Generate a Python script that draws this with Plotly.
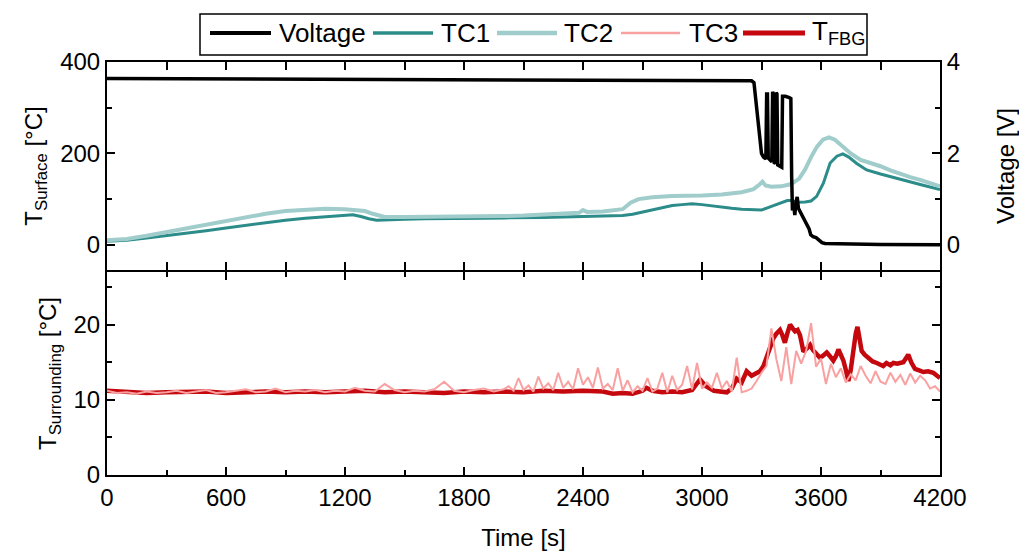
import plotly.graph_objects as go

# ---------------- data ----------------
volt_t = [0, 1000, 2000, 3000, 3200, 3250, 3262, 3275, 3290, 3300, 3310, 3322, 3326, 3330, 3334, 3345,
          3352, 3356, 3360, 3364, 3370, 3374, 3378, 3382, 3395, 3402, 3406, 3420, 3440, 3448, 3452,
          3456, 3462, 3468, 3474, 3480, 3486, 3492, 3500, 3510, 3520, 3530, 3540, 3548, 3560, 3575,
          3590, 3605, 3620, 3700, 3900, 4200]
volt_v = [3.64, 3.63, 3.62, 3.61, 3.60, 3.59, 3.55, 3.00, 2.40, 2.00, 1.92, 1.88, 3.30, 3.30, 1.90, 1.85,
          1.82, 3.35, 3.30, 1.80, 1.78, 3.33, 3.30, 1.75, 1.72, 1.70, 3.25, 3.25, 3.22, 3.20, 1.50,
          0.75, 0.90, 0.65, 0.95, 1.05, 0.80, 0.75, 0.68, 0.60, 0.50, 0.45, 0.35, 0.22, 0.18, 0.16,
          0.10, 0.05, 0.03, 0.02, 0.01, 0.00]

tc1_t = [0, 100, 200, 300, 400, 500, 600, 700, 800, 900, 1000, 1100, 1200, 1240, 1280, 1320, 1360, 1400,
         1500, 1600, 1700, 1800, 1900, 2000, 2100, 2200, 2300, 2400, 2500, 2600, 2650, 2700, 2750, 2800,
         2850, 2900, 2950, 3000, 3050, 3100, 3150, 3200, 3250, 3300, 3350, 3400, 3430, 3450, 3480, 3520,
         3550, 3578, 3612, 3646, 3680, 3710, 3740, 3780, 3830, 3900, 4000, 4100, 4200]
tc1_v = [8, 10, 15, 20, 25, 31, 37, 43, 49, 54, 58, 62, 65, 66, 62, 57, 54, 55,
         56, 57, 57, 58, 58, 59, 59, 60, 61, 62, 63, 64, 67, 72, 77, 82,
         86, 88, 90, 88, 85, 82, 80, 78, 77, 76, 84, 92, 97, 97, 93, 94,
         96, 106, 135, 179, 194, 199, 192, 178, 164, 155, 143, 132, 121]

tc2_t = [0, 100, 200, 300, 400, 500, 600, 700, 800, 900, 1000, 1100, 1200, 1250, 1300, 1340, 1380, 1400,
         1500, 1600, 1700, 1800, 1900, 2000, 2100, 2200, 2300, 2380, 2400, 2420, 2500, 2600, 2640, 2680,
         2750, 2850, 3000, 3100, 3200, 3260, 3290, 3305, 3320, 3350, 3400, 3450, 3490, 3520, 3550, 3580,
         3610, 3640, 3670, 3700, 3750, 3800, 3850, 3900, 3950, 4000, 4050, 4100, 4150, 4200]
tc2_v = [10, 13, 20, 28, 36, 45, 54, 62, 68, 74, 77, 79, 78, 77, 74, 68, 62, 61,
         61, 61, 61, 61, 62, 63, 64, 66, 68, 70, 76, 72, 73, 78, 92, 100,
         104, 107, 108, 110, 115, 122, 132, 138, 130, 127, 128, 133, 145, 165, 192, 215,
         230, 235, 230, 218, 200, 186, 180, 172, 163, 155, 148, 142, 135, 128]

tc3_t = [0, 50, 100, 150, 200, 250, 300, 350, 400, 450, 500, 550, 600, 650, 700, 750, 800, 850, 900, 950,
         1000, 1050, 1100, 1150, 1200, 1250, 1300, 1350, 1400, 1450, 1500, 1550, 1600, 1650, 1700, 1750,
         1800, 1850, 1900, 1950, 2000,
         2025, 2050, 2075, 2100, 2125, 2150, 2175, 2200, 2225, 2250, 2275, 2300, 2325, 2350, 2375, 2400,
         2425, 2450, 2475, 2500, 2525, 2550, 2575, 2600, 2625, 2650, 2675, 2700, 2725, 2750, 2775, 2800,
         2825, 2850, 2875, 2900, 2925, 2950, 2975, 3000, 3025, 3050, 3075, 3100, 3125, 3150, 3175, 3200,
         3225, 3250, 3275, 3300, 3325, 3350, 3375, 3400, 3425, 3450, 3475, 3500, 3525, 3550, 3575, 3600,
         3625, 3650, 3675, 3700, 3725, 3750, 3775, 3800, 3825, 3850, 3875, 3900, 3925, 3950, 3975, 4000,
         4025, 4050, 4075, 4100, 4125, 4150, 4175, 4200]
tc3_v = [11.2, 10.9, 11.0, 10.8, 11.1, 10.9, 11.0, 11.2, 10.9, 11.1, 11.3, 10.9, 11.0, 11.2, 11.4, 11.0,
         11.1, 11.5, 11.0, 11.2, 11.1, 11.3, 11.0, 11.2, 11.1, 11.6, 11.2, 11.1, 12.1, 11.3, 11.0, 11.2,
         11.1, 11.4, 12.4, 11.2, 11.0, 11.3, 11.5, 11.1, 11.4,
         11.8, 11.2, 12.9, 11.3, 11.9, 11.1, 13.1, 11.5, 12.2, 11.3, 13.6, 11.6, 12.4, 11.4, 14.2, 12.0,
         13.0, 11.6, 14.3, 11.5, 12.1, 11.3, 14.2, 11.2, 12.6, 11.0, 11.8, 11.2, 12.9, 11.1, 11.5, 13.6,
         11.0, 13.2, 11.3, 12.0, 14.5, 11.4, 14.9, 11.5, 12.3, 11.6, 13.6, 11.5, 12.5, 11.1, 15.6, 11.0,
         11.2, 11.5, 12.5, 13.6, 14.5, 19.5, 15.4, 12.5, 17.0, 12.1, 16.5, 14.8, 16.5, 20.2, 14.4, 15.5,
         12.1, 14.8, 13.0, 14.2, 12.3, 13.4, 12.6, 14.5, 13.2, 12.2, 13.8, 12.4, 12.1, 13.6, 12.4, 13.3,
         12.0, 13.5, 12.3, 13.2, 12.6, 11.5, 11.8, 11.1]

fbg_t = [0, 100, 200, 300, 400, 500, 600, 700, 800, 900, 1000, 1100, 1200, 1300, 1400, 1500, 1600, 1700,
         1800, 1900, 2000, 2100, 2200, 2300, 2400, 2500, 2550, 2600, 2650, 2700, 2720, 2750, 2800, 2850,
         2900, 2950, 2990, 3020, 3060, 3100, 3125, 3150, 3175, 3200, 3225, 3250, 3275, 3292, 3310, 3326,
         3345, 3360, 3375, 3393, 3405, 3418, 3430, 3444, 3457, 3469, 3482, 3494, 3503, 3511, 3528, 3545,
         3560, 3578, 3595, 3612, 3629, 3645, 3662, 3675, 3688, 3700, 3713, 3725, 3738, 3750, 3763, 3775,
         3784, 3795, 3805, 3820, 3840, 3860, 3881, 3900, 3914, 3930, 3950, 3965, 3985, 3998, 4015, 4030,
         4040, 4055, 4074, 4095, 4116, 4140, 4166, 4185, 4200]
fbg_v = [11.2, 11.0, 10.9, 11.0, 11.0, 11.1, 10.9, 11.0, 11.1, 11.0, 11.1, 11.0, 11.1, 11.2, 11.0, 11.1,
         11.0, 10.9, 11.1, 11.0, 11.1, 11.0, 11.2, 11.1, 11.2, 11.1, 10.8, 10.9, 10.8, 11.2, 11.6, 11.2,
         11.0, 11.1, 11.0, 11.3, 12.7, 11.8, 11.2, 11.0, 11.0, 11.5, 12.8, 12.3, 13.8, 13.2, 13.5, 13.8,
         14.5, 15.6, 17.2, 18.2, 18.8, 19.3, 18.6, 17.6, 18.8, 20.0, 19.5, 19.1, 19.3, 18.6, 17.5, 16.4,
         16.8, 17.3, 16.6, 16.0, 15.6, 15.9, 16.3, 15.8, 15.2, 15.8, 16.7, 16.0, 15.2, 14.0, 12.5, 14.0,
         16.8, 18.8, 19.7, 18.0, 16.5, 16.0, 15.6, 15.1, 14.9, 14.6, 14.5, 14.9, 14.6, 14.9, 14.8, 14.9,
         15.0, 15.6, 16.0, 15.0, 14.1, 13.9, 13.7, 13.8, 13.6, 13.2, 12.9]

x_ticks = [0, 600, 1200, 1800, 2400, 3000, 3600, 4200]

# series styling and legend labels
series_colors = {"Voltage": "black", "TC1": "#2b8c89", "TC2": "#a0cdcb",
                 "TC3": "#f9a0a0", "T<sub>FBG</sub>": "#c4080e"}
series_widths = {"Voltage": 3.5, "TC1": 3, "TC2": 4, "TC3": 2, "T<sub>FBG</sub>": 4.5}

# ---------------- layout geometry (page pixels; the page body has an 8px margin) ----------------
FONT = "Liberation Sans, Arial, sans-serif"
OFF = 8
W, H = 1027 - OFF, 553 - OFF
PL, PR, PT, PB = 107, 940, 62, 475          # plot area in page pixels
ML, MT = PL - OFF, PT - OFF
MR, MB = W - (PR - OFF), H - (PB - OFF)
PW, PH = PR - PL, PB - PT

def px_x(p):
    return (p - PL) / PW

def px_y(p):
    return (PB - p) / PH

fig = go.Figure()

def add(name, t, v, xa, ya):
    fig.add_trace(go.Scatter(x=t, y=v, name=name, mode="lines", showlegend=False,
                             line=dict(color=series_colors[name], width=series_widths[name]),
                             xaxis=xa, yaxis=ya))

add("TC1", tc1_t, tc1_v, "x2", "y2")
add("TC2", tc2_t, tc2_v, "x2", "y2")
add("Voltage", volt_t, volt_v, "x2", "y3")
add("T<sub>FBG</sub>", fbg_t, fbg_v, "x", "y")
add("TC3", tc3_t, tc3_v, "x", "y")

split = px_y(270)
split_low = split - 2.0 / PH

TICKF = dict(family=FONT, size=24, color="black")
TITLEF = dict(family=FONT, size=24, color="black")
axcommon = dict(showline=True, linecolor="black", linewidth=2, ticks="inside", tickcolor="black",
                tickwidth=1.5, ticklen=8, showgrid=False, zeroline=False, automargin=False,
                tickfont=TICKF)
minor = lambda d: dict(dtick=d, ticks="inside", ticklen=5, tickcolor="black", tickwidth=1.5)

# ---------- legend drawn as a framed row ----------
legend_box = (200, 14, 867, 55)
legend_items = [  # (name, line x0, line x1, text x)
    ("Voltage", 210, 271, 277),
    ("TC1", 373, 433, 439),
    ("TC2", 497, 557, 562),
    ("TC3", 621, 680, 687),
    ("T<sub>FBG</sub>", 743, 805, 810),
]
LEG_Y = 33
shapes = [dict(type="rect", xref="paper", yref="paper",
               x0=px_x(legend_box[0]), x1=px_x(legend_box[2]),
               y0=px_y(legend_box[3]), y1=px_y(legend_box[1]),
               line=dict(color="black", width=1.5), fillcolor="white", layer="above")]
annotations = []
for name, lx0, lx1, tx in legend_items:
    shapes.append(dict(type="line", xref="paper", yref="paper",
                       x0=px_x(lx0), x1=px_x(lx1), y0=px_y(LEG_Y), y1=px_y(LEG_Y),
                       line=dict(color=series_colors[name], width=series_widths[name] + 0.5)))
    annotations.append(dict(text=name, xref="paper", yref="paper", x=px_x(tx), y=px_y(LEG_Y),
                            xanchor="left", yanchor="middle", showarrow=False,
                            font=dict(family=FONT, size=26, color="black")))

fig.update_layout(
    width=W, height=H,
    margin=dict(l=ML, r=MR, t=MT, b=MB, autoexpand=False),
    paper_bgcolor="white", plot_bgcolor="white",
    font=dict(family=FONT, size=24, color="black"),
    showlegend=False,
    shapes=shapes, annotations=annotations,
    xaxis=dict(axcommon, domain=[0, 1], range=[0, 4200], tickvals=x_ticks, anchor="y",
               mirror="allticks", minor=minor(300),
               title=dict(text="Time [s]", font=TITLEF, standoff=19)),
    xaxis2=dict(axcommon, domain=[0, 1], range=[0, 4200], tickvals=x_ticks, anchor="y2",
                matches="x", showticklabels=False, mirror="allticks", minor=minor(300)),
    yaxis=dict(axcommon, domain=[0, split_low], range=[0, 27], tickvals=[0, 10, 20], anchor="x",
               mirror="allticks", minor=minor(5),
               title=dict(text="T<sub>Surrounding</sub> [°C]", font=TITLEF, standoff=10)),
    yaxis2=dict(axcommon, domain=[split, 1], range=[-55, 400], tickvals=[0, 200, 400], anchor="x2",
                minor=minor(100),
                title=dict(text="T<sub>Surface</sub> [°C]", font=TITLEF, standoff=11)),
    yaxis3=dict(axcommon, range=[-0.55, 4], tickvals=[0, 2, 4], anchor="x2", overlaying="y2",
                side="right", minor=minor(1),
                title=dict(text="Voltage [V]", font=TITLEF, standoff=38)),
)

fig.write_html("out.html")
